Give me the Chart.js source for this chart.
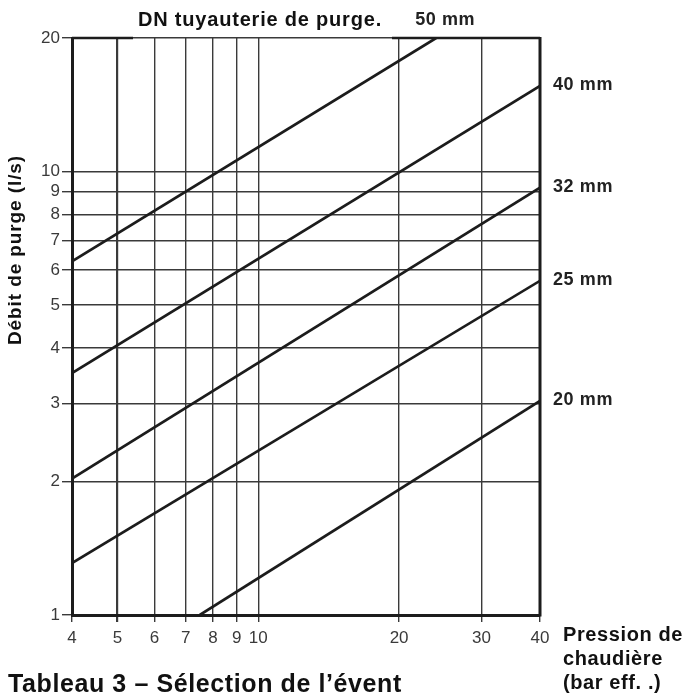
<!DOCTYPE html>
<html lang="fr">
<head>
<meta charset="utf-8">
<title>Tableau 3 – Sélection de l’évent</title>
<script src="https://cdn.jsdelivr.net/npm/chart.js@4.4.1/dist/chart.umd.min.js"></script>
<style>
  html, body { margin: 0; padding: 0; background: #fff; overflow: hidden; }
  #wrap { width: 698px; height: 693px; position: relative; }
</style>
</head>
<body>
<div id="wrap"><canvas id="chart"></canvas></div>
<script>
// Pipe sizes (DN) and the two ends of each straight line (log-log)
const sizes = ['50 mm', '40 mm', '32 mm', '25 mm', '20 mm'];
const startPressure = [4, 4, 4, 4, 7.5];
const startFlow = [6.27, 3.51, 2.03, 1.31, 1];
const endPressure = [24, 40, 40, 40, 40];
const endFlow = [20, 15.6, 9.2, 5.67, 3.04];

// Tick values
const xTicks = [4, 5, 6, 7, 8, 9, 10, 20, 30, 40];
const yTicks = [1, 2, 3, 4, 5, 6, 7, 8, 9, 10, 20];

const FONT = '"Liberation Sans", Arial, Helvetica, sans-serif';
const INK = '#1c1c1c';
const GRID = '#3a3a3a';

/**
 * Draw frame (right / top), line labels and the free texts
 */
const annotations = {
    id: 'annotations',
    afterDatasetsDraw(chart) {
        const { ctx, chartArea: a, scales: { x, y } } = chart;
        ctx.save();

        // top title, to know where the thick top border is broken
        ctx.font = 'bold 20px ' + FONT;
        ctx.letterSpacing = '0.8px';
        const title = 'DN tuyauterie de purge.';
        const titleLeft = 138;
        const titleW = ctx.measureText(title).width;

        // right border
        ctx.strokeStyle = INK;
        ctx.lineWidth = 3;
        ctx.beginPath();
        ctx.moveTo(a.right, a.bottom + 1.5);
        ctx.lineTo(a.right, a.top - 1);
        ctx.stroke();

        // top border, thick outside the title
        ctx.lineWidth = 2.5;
        ctx.beginPath();
        ctx.moveTo(a.left, a.top);
        ctx.lineTo(titleLeft - 5, a.top);
        ctx.moveTo(titleLeft + titleW + 10, a.top);
        ctx.lineTo(a.right, a.top);
        ctx.stroke();

        ctx.fillStyle = '#111';
        ctx.textBaseline = 'middle';
        ctx.textAlign = 'left';
        ctx.fillText(title, titleLeft, 20);

        // line labels
        ctx.font = 'bold 18px ' + FONT;
        ctx.letterSpacing = '0.6px';
        ctx.fillStyle = '#222';
        sizes.forEach((s, i) => {
            if (endFlow[i] >= y.max) {
                ctx.textAlign = 'center';
                ctx.fillText(s, x.getPixelForValue(endPressure[i]) + 9, 20);
            } else {
                ctx.textAlign = 'left';
                ctx.fillText(s, a.right + 13, y.getPixelForValue(endFlow[i]) - 1);
            }
        });

        // y axis title
        ctx.save();
        ctx.font = 'bold 19px ' + FONT;
        ctx.letterSpacing = '0.9px';
        ctx.fillStyle = '#111';
        ctx.translate(16, 250);
        ctx.rotate(-Math.PI / 2);
        ctx.textAlign = 'center';
        ctx.fillText('Débit de purge (l/s)', 0, 0);
        ctx.restore();

        // x axis title
        ctx.font = 'bold 20px ' + FONT;
        ctx.letterSpacing = '0.6px';
        ctx.fillStyle = '#111';
        ctx.textAlign = 'left';
        ['Pression de', 'chaudière', '(bar eff. .)'].forEach((t, i) => {
            ctx.fillText(t, 563, 635 + i * 24);
        });

        // caption
        ctx.font = 'bold 25px ' + FONT;
        ctx.letterSpacing = '0.6px';
        ctx.textBaseline = 'alphabetic';
        ctx.fillText('Tableau 3 – Sélection de l’évent', 8, 692);

        ctx.restore();
    }
};

const canvas = document.getElementById('chart');

new Chart(canvas.getContext('2d'), {
    type: 'line',
    data: {
        datasets: sizes.map((s, i) => ({
            label: s,
            data: [
                { x: startPressure[i], y: startFlow[i] },
                { x: endPressure[i], y: endFlow[i] }
            ],
            borderColor: INK,
            borderWidth: 2.7,
            pointRadius: 0,
            fill: false,
            tension: 0
        }))
    },
    options: {
        responsive: true,
        maintainAspectRatio: false,
        animation: false,
        layout: {
            padding: { top: 38, right: 158, left: 0, bottom: 0 }
        },
        scales: {
            x: {
                type: 'logarithmic',
                min: 4,
                max: 40,
                afterBuildTicks: scale => {
                    scale.ticks = xTicks.map(v => ({ value: v }));
                },
                afterFit: scale => {
                    scale.height = 78;
                },
                ticks: {
                    autoSkip: false,
                    maxRotation: 0,
                    padding: 6,
                    color: '#3a3a3a',
                    font: { family: FONT, size: 17 },
                    callback: value => String(value)
                },
                grid: {
                    color: GRID,
                    lineWidth: ctx => (ctx.tick && ctx.tick.value === 5 ? 2.2 : 1.4),
                    tickLength: 7
                },
                border: { color: INK, width: 3 }
            },
            y: {
                type: 'logarithmic',
                min: 1,
                max: 20,
                afterBuildTicks: scale => {
                    scale.ticks = yTicks.map(v => ({ value: v }));
                },
                afterFit: scale => {
                    scale.width = 72;
                },
                ticks: {
                    autoSkip: false,
                    padding: 2,
                    color: '#3a3a3a',
                    font: { family: FONT, size: 17 },
                    callback: value => String(value)
                },
                grid: {
                    color: GRID,
                    lineWidth: 1.4,
                    tickLength: 10
                },
                border: { color: INK, width: 3 }
            }
        },
        plugins: {
            legend: { display: false },
            tooltip: { enabled: false }
        }
    },
    plugins: [annotations]
});
</script>
</body>
</html>
